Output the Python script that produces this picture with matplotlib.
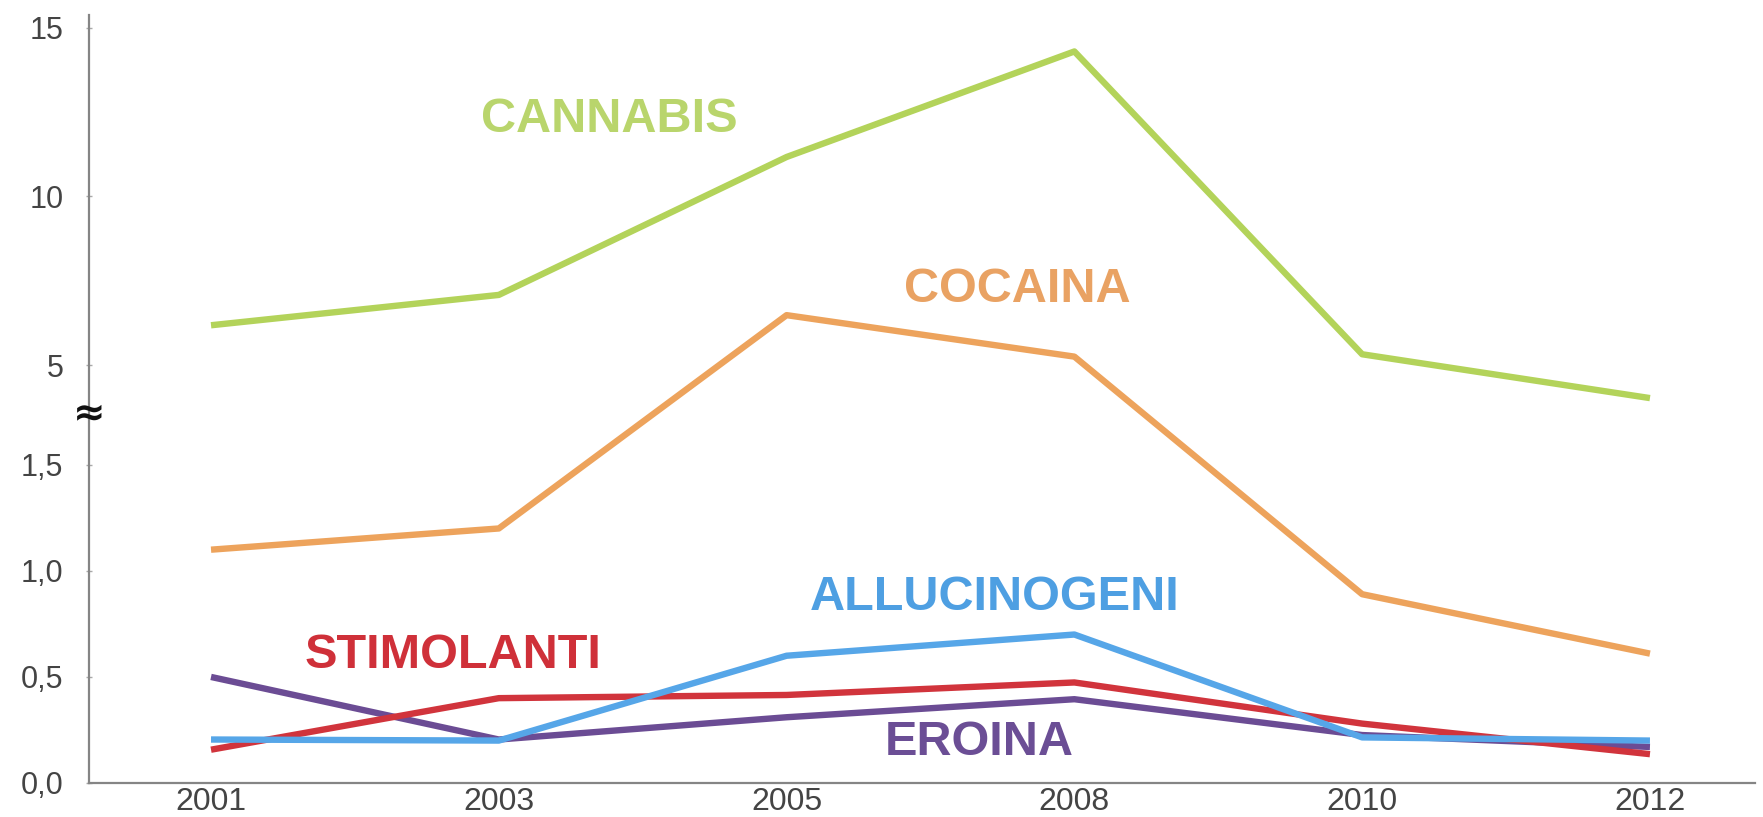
import numpy as np
import matplotlib
matplotlib.use("Agg")
import matplotlib.pyplot as plt

plt.rcParams['font.family'] = ['Liberation Sans', 'DejaVu Sans']

# data (percent)
years = ['2001', '2003', '2005', '2008', '2010', '2012']
cannabis = [6.18, 7.08, 11.17, 14.30, 5.32, 4.02]
cocaina = [1.10, 1.20, 6.48, 5.25, 0.89, 0.61]
allucinogeni = [0.205, 0.20, 0.60, 0.70, 0.215, 0.20]
stimolanti = [0.157, 0.40, 0.415, 0.474, 0.28, 0.136]
eroina = [0.50, 0.205, 0.31, 0.395, 0.226, 0.17]

ytick_vals = [0, 0.5, 1.0, 1.5, 5, 10, 15]
ytick_labels = ['0,0', '0,5', '1,0', '1,5', '5', '10', '15']

# broken axis: 0..1.74 stretched, 3.61..15 compressed
BRK_LO, BRK_HI = 1.74, 3.61
knots_v = [-5, 0, BRK_LO, BRK_HI, 15, 40]
knots_p = [-1063, 0, 369, 371, 755, 1600]

def fwd(v):
    return np.interp(v, knots_v, knots_p)

def inv(p):
    return np.interp(p, knots_p, knots_v)

W, H = 1763, 817
fig = plt.figure(figsize=(W / 100, H / 100), dpi=100)
ax = fig.add_axes([89 / W, (H - 783) / H, (1755 - 89) / W, (783 - 15) / H])
ax.set_yscale('function', functions=(fwd, inv))

x = np.arange(len(years))
lw = 4.6
ax.plot(x, eroina, color='#6b4c94', lw=lw, solid_capstyle='butt', zorder=2)
ax.plot(x, stimolanti, color='#d1343c', lw=lw, solid_capstyle='butt', zorder=3)
ax.plot(x, allucinogeni, color='#56a6e8', lw=lw, solid_capstyle='butt', zorder=4)
ax.plot(x, cocaina, color='#eda35c', lw=lw, solid_capstyle='butt', zorder=5)
ax.plot(x, cannabis, color='#b3d35a', lw=lw, solid_capstyle='butt', zorder=6)

lab = dict(fontsize=35, fontweight='bold', ha='center', va='center')
ax.text(1.383, 12.28, 'CANNABIS', color='#b9d56c', **lab)
ax.text(2.80, 7.25, 'COCAINA', color='#e9a263', **lab)
ax.text(2.724, 0.875, 'ALLUCINOGENI', color='#4e9fe2', **lab)
ax.text(0.841, 0.60, 'STIMOLANTI', color='#cf3039', **lab)
ax.text(2.67, 0.19, 'EROINA', color='#6b4e95', **lab)

ax.set_xlim(-0.424, 5.365)
ax.set_ylim(0, 15.38)
ax.set_xticks(x)
ax.set_xticklabels(years)
ax.set_yticks(ytick_vals)
ax.set_yticklabels(ytick_labels)
ax.minorticks_off()

for s in ['top', 'right']:
    ax.spines[s].set_visible(False)
for s in ['left', 'bottom']:
    ax.spines[s].set_color('#858585')
    ax.spines[s].set_linewidth(1.6)

ax.tick_params(axis='y', direction='inout', length=5, width=1, color='#aaaaaa',
               labelsize=22, labelcolor='#444444', pad=16)
ax.tick_params(axis='x', length=0, labelsize=23, labelcolor='#444444', pad=3)

# break mark on the y axis
ax.text(0, (BRK_LO + BRK_HI) / 2, '\u2248', transform=ax.get_yaxis_transform(),
        ha='center', va='center', fontsize=28, fontweight='bold',
        family=['DejaVu Sans'], color='#111111', zorder=10, clip_on=False)

fig.savefig('out.png', dpi=100, facecolor='white')
